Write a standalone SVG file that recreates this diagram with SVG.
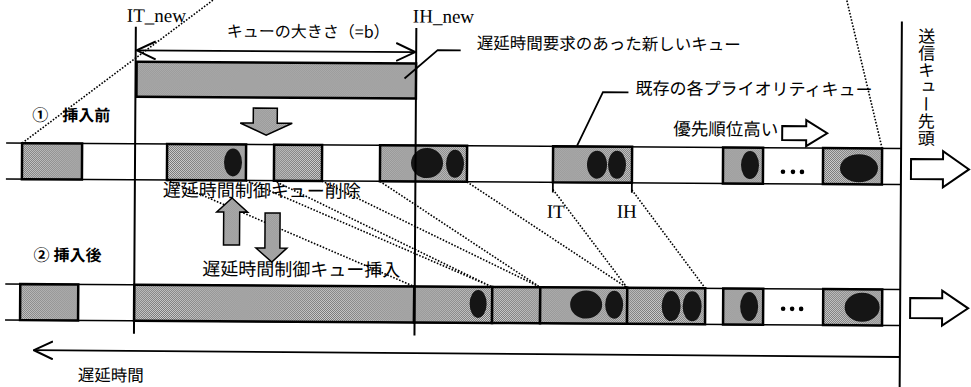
<svg xmlns="http://www.w3.org/2000/svg" width="971" height="387" viewBox="0 0 971 387">
<style>
.box{fill:url(#ht);stroke:#000;stroke-width:2.5}
.strip{stroke:#000;stroke-width:1.5;fill:none}
.ln{stroke:#000;stroke-width:1.8;fill:none}
.vl{stroke:#000;stroke-width:2;fill:none}
.dot{stroke:#000;stroke-width:1.6;stroke-dasharray:1.6 1.6;fill:none}
.el{fill:#151515}
.jp{font-family:"Noto Sans CJK JP","Noto Sans",sans-serif;fill:#000}
.en{font-family:"Liberation Serif",serif;fill:#000;font-size:19px}
.garr{fill:url(#ht);stroke:#000;stroke-width:1.5}
.harr{fill:#fff;stroke:#000;stroke-width:2}
</style>
<defs>
<pattern id="ht" width="2" height="2" patternUnits="userSpaceOnUse"><rect width="2" height="2" fill="#d6d6d6"/><rect width="1" height="1" fill="#707070"/><rect x="1" y="1" width="1" height="1" fill="#707070"/></pattern>
<marker id="oa" viewBox="0 0 20 20" refX="19" refY="10" markerWidth="20" markerHeight="20" markerUnits="userSpaceOnUse" orient="auto-start-reverse"><path d="M0,1 L19,10 L0,19" fill="none" stroke="#000" stroke-width="2"/></marker>
</defs>
<rect width="971" height="387" fill="#fff"/>
<g transform="rotate(0.35)">
<g id="strips">
<path class="strip" d="M7,143 H902 M7,179 H902 M7,284 H902 M7,320 H902"/>
</g>
<g id="new-queue"><rect class="box" x="137" y="61" width="279.5" height="35"/></g>
<g id="q1-a"><rect class="box" x="23" y="143" width="60" height="36"/></g>
<g id="q1-b"><rect class="box" x="168" y="143" width="79" height="36"/><ellipse class="el" cx="234" cy="161" rx="9" ry="14"/></g>
<g id="q1-c"><rect class="box" x="275" y="143" width="48" height="36"/></g>
<g id="q1-d"><rect class="box" x="381" y="143" width="87" height="36"/><ellipse class="el" cx="428" cy="160.5" rx="16" ry="15"/><ellipse class="el" cx="456" cy="161" rx="9" ry="14"/></g>
<g id="q1-e"><rect class="box" x="554" y="143" width="79" height="36"/><ellipse class="el" cx="598" cy="161" rx="10" ry="14"/><ellipse class="el" cx="618" cy="161" rx="9" ry="14"/></g>
<g id="q1-f"><rect class="box" x="724" y="143" width="40" height="36"/><ellipse class="el" cx="751" cy="160.5" rx="9" ry="14"/></g>
<g id="q1-dots"><circle cx="784" cy="167" r="2.3"/><circle cx="794" cy="167" r="2.3"/><circle cx="803" cy="167" r="2.3"/></g>
<g id="q1-g"><rect class="box" x="824" y="143" width="59" height="36"/><ellipse class="el" cx="860" cy="163" rx="19" ry="14"/></g>

<g id="q2-a"><rect class="box" x="22" y="284" width="58" height="36"/></g>
<g id="q2-new"><rect class="box" x="136" y="284" width="280" height="36"/></g>
<g id="q2-b"><rect class="box" x="416" y="284" width="78" height="36"/><ellipse class="el" cx="480" cy="301" rx="8.5" ry="14"/></g>
<g id="q2-c"><rect class="box" x="494" y="284" width="48" height="36"/></g>
<g id="q2-d"><rect class="box" x="542" y="284" width="87" height="36"/><ellipse class="el" cx="588" cy="301" rx="16" ry="14"/><ellipse class="el" cx="616" cy="301" rx="9" ry="14"/></g>
<g id="q2-e"><rect class="box" x="629" y="284" width="78" height="36"/><ellipse class="el" cx="673" cy="302" rx="9.5" ry="15"/><ellipse class="el" cx="694" cy="302" rx="9.5" ry="15"/></g>
<g id="q2-f"><rect class="box" x="725" y="284" width="40" height="36"/><ellipse class="el" cx="751" cy="302" rx="9" ry="14.5"/></g>
<g id="q2-dots"><circle cx="785" cy="304" r="2.3"/><circle cx="794" cy="304" r="2.3"/><circle cx="803" cy="304" r="2.3"/></g>
<g id="q2-g"><rect class="box" x="825" y="284" width="59" height="36"/><ellipse class="el" cx="864" cy="302" rx="17.5" ry="14.5"/></g>

<g id="connectors">
<path class="vl" d="M136,26 V333 M416.5,25.5 V333 M902,16 V395"/>
<line class="ln" x1="137" y1="49.5" x2="415.5" y2="49.5" marker-start="url(#oa)" marker-end="url(#oa)"/>
<line class="ln" x1="902" y1="351.5" x2="36" y2="350" marker-end="url(#oa)"/>
<polyline class="ln" points="405,76 438,47.5 461,47.5"/>
<polyline class="ln" points="578,142 603.5,88.5 629,88.5"/>
<path class="ln" d="M554,179 V189 M633,179 V189"/>
<path class="dot" d="M23,143 L222,-8 M883,143 L846.5,-6 M168,179 L416,284 M247,179 L494,284 M275,179 L494,284 M323,179 L542,284 M381,179 L542,284 M468,179 L629,284 M554,186 L629,284 M633,186 L707,284"/>
<path class="garr" d="M254,106.5 H278 V121.5 H293 L267,133.5 L241,121.5 H254 Z"/>
<path class="garr" d="M233.3,196.6 L249,210.6 H241 V243.6 H225 V210.6 H218 Z"/>
<path class="garr" d="M266.4,211.4 H281.4 V246.4 H288.4 L273.4,260.4 L257.4,246.4 H266.4 Z"/>
<path class="harr" d="M912,153.5 H944 V145.5 L970,163.5 L944,181.5 V173.5 H912 Z"/>
<path class="harr" d="M912,292.4 H944 V284.9 L970,302.4 L944,319.9 V312.4 H912 Z"/>
<path class="harr" d="M783,121.2 H807 V115.2 L828,128.2 L807,141.2 V135.2 H783 Z"/>
</g>

<g id="labels">
<text class="en" x="127" y="21">IT_new</text>
<text class="en" x="413" y="20">IH_new</text>
<text class="en" x="548" y="214.5">IT</text>
<text class="en" x="618" y="214">IH</text>
<text class="jp" x="227" y="35.5" font-size="16">キューの大きさ（=b）</text>
<text class="jp" x="477" y="46" font-size="16.5">遅延時間要求のあった新しいキュー</text>
<text class="jp" x="636" y="90.5" font-size="17">既存の各プライオリティキュー</text>
<text class="jp" x="33" y="120.5" font-size="16" font-weight="bold">①<tspan x="63">挿入前</tspan></text>
<text class="jp" x="674" y="131" font-size="17.5">優先順位高い</text>
<text class="jp" x="164" y="195.5" font-size="18">遅延時間制御キュー削除</text>
<text class="jp" x="35" y="260.5" font-size="16" font-weight="bold">②<tspan x="55">挿入後</tspan></text>
<text class="jp" x="204" y="274" font-size="18">遅延時間制御キュー挿入</text>
<text class="jp" x="80" y="380.5" font-size="16.5">遅延時間</text>
<text class="jp" x="927" y="22" font-size="17" style="writing-mode:vertical-rl">送信キュー先頭</text>
</g>
</g>
</svg>
